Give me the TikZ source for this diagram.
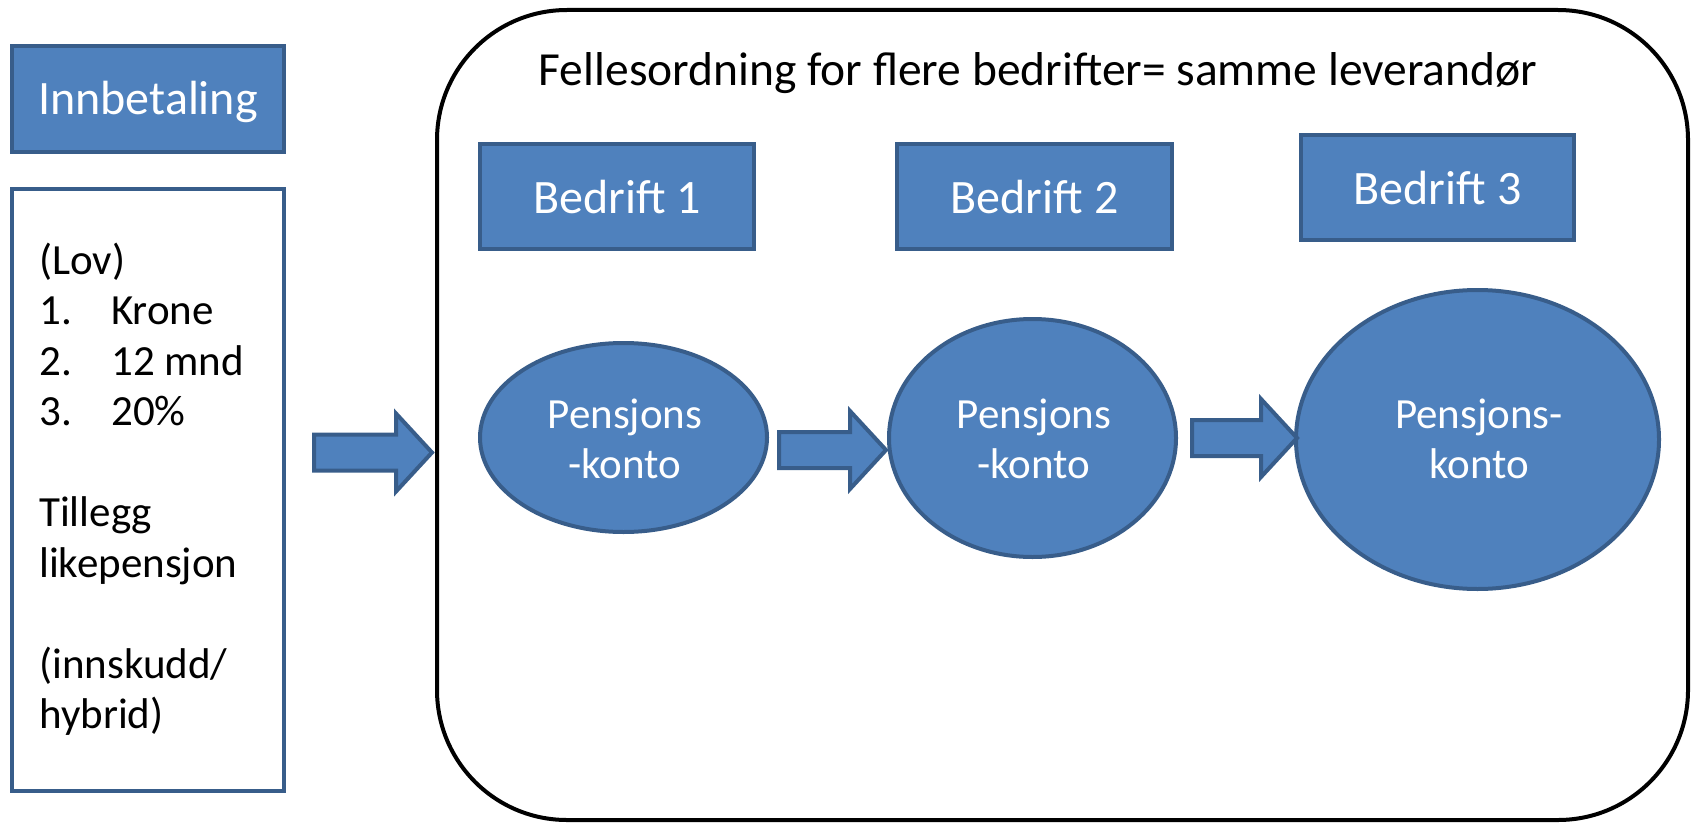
\documentclass[tikz,border=0pt]{standalone}
\usepackage{fontspec}
\setmainfont{Carlito}
\usetikzlibrary{calc,shapes.geometric}
\definecolor{fillblue}{HTML}{4F81BD}
\definecolor{lineblue}{HTML}{385D8A}

% block arrow ending at tip #1, total length #2
\newcommand{\blkarrow}[2]{%
  \draw[arrowshape] ($(#1)+(-#2,-18)$) -- ($(#1)+(-36,-18)$) -- ($(#1)+(-36,-39)$)
    -- (#1) -- ($(#1)+(-36,39)$) -- ($(#1)+(-36,18)$) -- ($(#1)+(-#2,18)$) -- cycle;}

\begin{document}
\begin{tikzpicture}[x=1pt,y=-1pt,
  bluebox/.style={rectangle, draw=lineblue, fill=fillblue, line width=4pt, inner sep=0pt},
  whitebox/.style={rectangle, draw=lineblue, fill=white, line width=4pt, inner sep=0pt},
  blueoval/.style={ellipse, draw=lineblue, fill=fillblue, line width=4pt, inner sep=0pt},
  frame/.style={rectangle, draw=black, line width=4pt, rounded corners=130pt, inner sep=0pt},
  arrowshape/.style={draw=lineblue, fill=fillblue, line width=4pt, line join=miter},
  big/.style={font=\fontsize{48}{57}\selectfont, inner sep=0pt},
  body/.style={font=\fontsize{43}{51}\selectfont, inner sep=0pt},
  light/.style={text=white}]
\useasboundingbox (0,0) rectangle (1696,824);

% left column
\node[bluebox, minimum width=272pt, minimum height=106pt] (inn) at (148,99) {};
\node[big, light, anchor=base] (innt) at (148,115) {Innbetaling};

\node[whitebox, minimum width=272pt, minimum height=602pt] (rules) at (148,490) {};
\node[body, anchor=base west] (r1) at (39,274) {(Lov)};
\node[body, anchor=base west] (r2) at (39,324.5) {1.};
\node[body, anchor=base west] (r2b) at (111,324.5) {Krone};
\node[body, anchor=base west] (r3) at (39,375) {2.};
\node[body, anchor=base west] (r3b) at (111,375) {12 mnd};
\node[body, anchor=base west] (r4) at (39,425.5) {3.};
\node[body, anchor=base west] (r4b) at (111,425.5) {20\%};
\node[body, anchor=base west] (r5) at (39,526.5) {Tillegg};
\node[body, anchor=base west] (r6) at (39,577) {likepensjon};
\node[body, anchor=base west] (r7) at (39,678) {(innskudd/};
\node[body, anchor=base west] (r8) at (39,728.5) {hybrid)};

% shared scheme frame
\node[frame, minimum width=1251pt, minimum height=810pt] (scheme) at (1062.5,415) {};
\node[anchor=base, inner sep=0pt, font=\fontsize{47.5}{57}\selectfont] (title) at (1038,86)
  {Fellesordning for flere bedrifter= samme leverandør};

% companies
\node[bluebox, minimum width=274pt, minimum height=105pt] (b1) at (617,196.5) {};
\node[bluebox, minimum width=275pt, minimum height=105pt] (b2) at (1034.5,196.5) {};
\node[bluebox, minimum width=273pt, minimum height=105pt] (b3) at (1437.5,187.5) {};
\node[big, light, anchor=base] (b1t) at (617,213) {Bedrift 1};
\node[big, light, anchor=base] (b2t) at (1034.5,213) {Bedrift 2};
\node[big, light, anchor=base] (b3t) at (1437.5,204) {Bedrift 3};

% pension accounts
\node[blueoval, minimum width=287pt, minimum height=189pt] (e1) at (623.5,437.5) {};
\node[blueoval, minimum width=287pt, minimum height=238pt] (e2) at (1032.5,438) {};
\node[blueoval, minimum width=363pt, minimum height=299pt] (e3) at (1477.5,439.5) {};
\node[body, light, anchor=base] (e1a) at (625,428) {Pensjons};
\node[body, light, anchor=base] (e1b) at (625,478) {-konto};
\node[body, light, anchor=base] (e2a) at (1034,428) {Pensjons};
\node[body, light, anchor=base] (e2b) at (1034,478) {-konto};
\node[body, light, anchor=base] (e3a) at (1479,428) {Pensjons-};
\node[body, light, anchor=base] (e3b) at (1479,478) {konto};

% flow arrows
\coordinate (t1) at (432,452.5);
\coordinate (t2) at (886,450);
\coordinate (t3) at (1297,438);
\blkarrow{t1}{118}
\blkarrow{t2}{107}
\blkarrow{t3}{105}
\end{tikzpicture}
\end{document}
